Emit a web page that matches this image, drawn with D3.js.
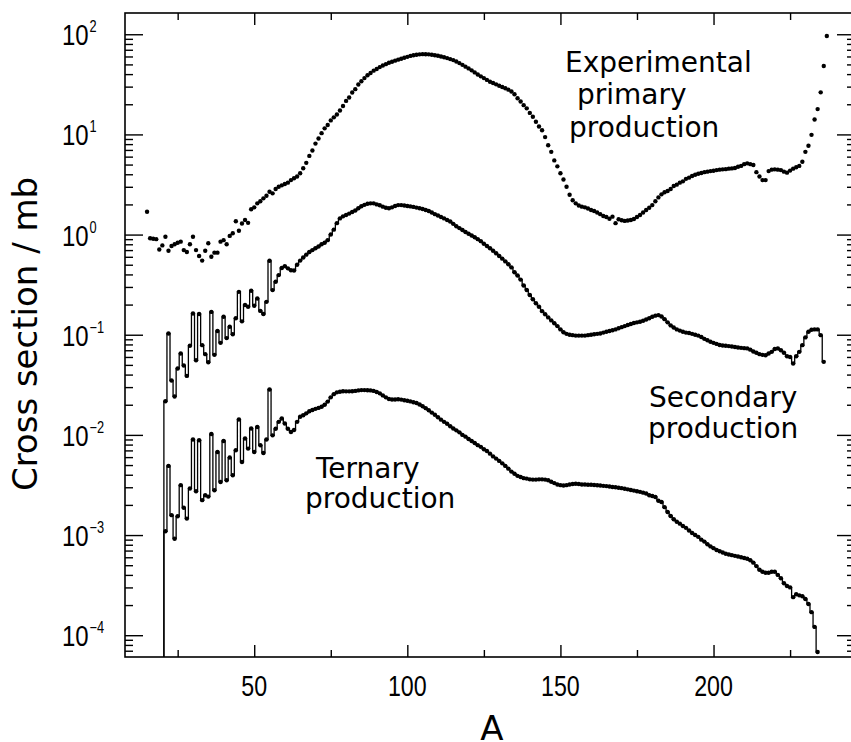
<!DOCTYPE html>
<html>
<head>
<meta charset="utf-8">
<script src="https://cdn.jsdelivr.net/npm/d3@7"></script>
<style>
body { margin: 0; background: #fff; }
svg { display: block; }
.tick line { stroke: #000; stroke-width: 1.4; }
.domain { display: none; }
.num { font-family: "Liberation Sans", Arial, sans-serif; fill: #000; }
.lbl { font-family: "DejaVu Sans", sans-serif; fill: #000; }
</style>
</head>
<body>
<svg width="851" height="742"></svg>
<script>
// A of first entry in each list, one entry per mass number
var primaryStart = 15;
var primaryValues = [
    1.69,0.92,0.91,0.90,0.71,0.78,0.95,0.69,0.77,0.80,
    0.83,0.85,0.70,0.67,0.80,0.95,0.70,0.61,0.55,0.69,
    0.82,0.60,0.66,0.66,0.85,0.88,0.80,0.97,1.03,1.36,
    1.09,1.29,1.40,1.31,1.79,1.87,2.05,2.15,2.30,2.44,
    2.68,2.58,2.85,3.0,3.1,3.2,3.3,3.5,3.65,3.8,
    4.1,4.6,5.2,6.1,6.9,8.1,9.1,10.3,11.5,12.4,
    13.8,14.8,15.8,17.3,19.2,21.6,23.4,26.2,28.3,31.5,
    34.0,36.5,39.0,41.0,43.3,45.0,47.0,48.8,50.3,52.0,
    53.2,54.5,55.8,57.0,58.2,59.5,60.8,61.8,62.5,63.0,
    63.3,63.2,63.0,62.5,61.8,61.0,60.0,58.9,57.8,56.5,
    55.2,53.5,51.5,49.5,47.5,45.6,43.6,41.6,39.6,38.0,
    36.5,35.0,33.6,32.6,31.6,30.6,29.7,28.9,28.0,26.8,
    25.2,23.0,21.3,19.6,18.2,16.4,15.0,13.4,12.0,11.0,
    9.4,7.8,6.7,5.5,4.8,4.1,3.55,3.0,2.5,2.2,
    2.05,1.95,1.9,1.87,1.82,1.76,1.72,1.66,1.6,1.53,
    1.5,1.44,1.51,1.30,1.42,1.39,1.37,1.38,1.40,1.43,
    1.50,1.57,1.66,1.76,1.85,1.97,2.15,2.35,2.52,2.65,
    2.72,2.85,3.05,3.15,3.3,3.4,3.6,3.7,3.85,3.95,
    4.05,4.12,4.2,4.25,4.3,4.34,4.4,4.45,4.48,4.5,
    4.55,4.58,4.62,4.75,4.85,5.05,5.14,5.05,4.95,4.2,
    3.8,3.5,3.5,4.3,4.45,4.48,4.45,4.40,4.25,4.15,
    4.35,4.55,4.7,4.85,5.33,6.7,7.7,9.9,14.1,17.9,
    26.3,48.2,96.0
];

var secondaryStart = 20;
var secondaryValues = [
    1e-6,0.0217,0.103,0.0349,0.0242,0.046,0.065,0.0493,0.0388,0.0775,
    0.163,0.0557,0.161,0.0787,0.064,0.0532,0.169,0.063,0.109,0.083,
    0.151,0.0925,0.12,0.101,0.146,0.268,0.136,0.198,0.19,0.275,
    0.195,0.23,0.173,0.161,0.213,0.547,0.279,0.338,0.394,0.464,
    0.484,0.46,0.44,0.438,0.5,0.55,0.59,0.63,0.67,0.70,
    0.73,0.76,0.80,0.83,0.88,1.0,1.12,1.3,1.45,1.52,
    1.57,1.62,1.68,1.74,1.83,1.92,1.98,2.03,2.05,2.05,
    2.0,1.96,1.9,1.85,1.83,1.87,1.93,1.97,1.97,1.95,
    1.93,1.91,1.89,1.86,1.83,1.80,1.76,1.72,1.66,1.60,
    1.55,1.5,1.45,1.4,1.35,1.28,1.21,1.16,1.11,1.06,
    1.02,0.98,0.94,0.90,0.86,0.81,0.77,0.73,0.69,0.65,
    0.61,0.575,0.54,0.505,0.47,0.42,0.39,0.355,0.31,0.28,
    0.249,0.226,0.206,0.19,0.172,0.16,0.149,0.139,0.13,0.122,
    0.113,0.106,0.102,0.1,0.099,0.098,0.098,0.098,0.098,0.099,
    0.1,0.101,0.102,0.103,0.105,0.107,0.109,0.111,0.113,0.116,
    0.119,0.122,0.125,0.128,0.131,0.133,0.135,0.138,0.142,0.146,
    0.151,0.155,0.157,0.152,0.143,0.133,0.124,0.118,0.113,0.11,
    0.107,0.105,0.104,0.102,0.1,0.098,0.095,0.091,0.088,0.085,
    0.083,0.081,0.079,0.078,0.0775,0.077,0.0762,0.0753,0.0745,0.074,
    0.0735,0.073,0.071,0.068,0.066,0.064,0.063,0.0625,0.065,0.0675,
    0.072,0.073,0.07,0.066,0.061,0.060,0.0516,0.061,0.0675,0.0787,
    0.094,0.107,0.112,0.113,0.113,0.099,0.0536
];

var ternaryStart = 20;
var ternaryValues = [
    1e-6,0.00109,0.0049,0.00158,0.00092,0.00154,0.00315,0.00187,0.00146,0.00292,
    0.009,0.00274,0.00885,0.00223,0.0025,0.00242,0.0102,0.0028,0.00676,0.00339,
    0.0087,0.00352,0.00594,0.00395,0.00703,0.01426,0.00537,0.0092,0.0073,0.0116,
    0.00676,0.012,0.00789,0.0066,0.009,0.0284,0.0099,0.0115,0.0135,0.0146,
    0.013,0.0115,0.0107,0.0112,0.0135,0.0152,0.0157,0.0164,0.0172,0.0177,
    0.0182,0.0186,0.0191,0.0200,0.0215,0.0237,0.0255,0.0266,0.027,0.0273,
    0.0272,0.0272,0.0273,0.0275,0.0278,0.028,0.028,0.0279,0.0278,0.0275,
    0.0268,0.026,0.0248,0.0237,0.0228,0.0226,0.0226,0.0227,0.0225,0.0222,
    0.0219,0.0216,0.0212,0.0208,0.0201,0.0193,0.0185,0.0176,0.0167,0.0159,
    0.015,0.0142,0.0135,0.0129,0.0122,0.0116,0.0111,0.0106,0.0100,0.0096,
    0.0091,0.0087,0.0083,0.0079,0.0076,0.0072,0.0069,0.0065,0.0061,0.0058,
    0.0055,0.0052,0.0049,0.0046,0.0043,0.0041,0.0039,0.0038,0.0037,0.00366,
    0.0036,0.00358,0.00358,0.0036,0.0036,0.00358,0.00352,0.0034,0.0033,0.0032,
    0.00315,0.00312,0.00315,0.0032,0.00323,0.00325,0.00323,0.0032,0.0032,0.00318,
    0.00318,0.00316,0.00314,0.00312,0.0031,0.00308,0.00305,0.00302,0.003,0.00297,
    0.00294,0.0029,0.00286,0.00282,0.00278,0.00274,0.0027,0.00265,0.0026,0.0025,
    0.00245,0.0024,0.0022,0.00214,0.0019,0.0017,0.00155,0.00144,0.00136,0.0013,
    0.00123,0.00118,0.00111,0.00105,0.001,0.00096,0.0009,0.00086,0.00081,0.00077,
    0.00074,0.00071,0.00069,0.00067,0.00065,0.00064,0.00063,0.00062,0.00061,0.0006,
    0.00059,0.00058,0.00056,0.00053,0.00049,0.00045,0.00043,0.00042,0.00042,0.00043,
    0.00043,0.0004,0.00037,0.00033,0.00031,0.0003,0.00024,0.000256,0.00025,0.000245,
    0.00023,0.000205,0.00017,0.000121,0.000068
];

var xMajor = [50, 100, 150, 200];
var xMinor = [25, 75, 125, 175, 225];
var yExponents = [2, 1, 0, -1, -2, -3, -4];

var notes = [
    {text: "Experimental", x: 565, y: 72},
    {text: "primary", x: 577, y: 104},
    {text: "production", x: 569, y: 137},
    {text: "Secondary", x: 649, y: 407},
    {text: "production", x: 648, y: 438},
    {text: "Ternary", x: 316, y: 478},
    {text: "production", x: 305, y: 508}
];

var svg = d3.select("svg"),
    plotLeft = 125, plotRight = 855, plotTop = 13, plotBottom = 657;

var x = d3.scaleLinear().domain([7.8, 246.2]).range([plotLeft, plotRight]);
var y = d3.scaleLog().domain([6.06e-5, 163]).range([plotBottom, plotTop]);

function toPoints(start, values) {
    return values.map(function(v, i) { return {a: start + i, v: v}; });
}

var primary = toPoints(primaryStart, primaryValues);
var secondary = toPoints(secondaryStart, secondaryValues);
var ternary = toPoints(ternaryStart, ternaryValues);

svg.append("defs").append("clipPath").attr("id", "plot")
    .append("rect").attr("x", plotLeft).attr("y", plotTop)
    .attr("width", plotRight - plotLeft).attr("height", plotBottom - plotTop);

// minor ticks for log axis
var yMinor = [];
[3, 2, 1, 0, -1, -2, -3, -4].forEach(function(e) {
    for (var k = 2; k <= 9; k++) yMinor.push(k * Math.pow(10, e - 1));
});
yMinor = yMinor.filter(function(v) { return v > 6.06e-5 && v < 163; });
var yMajor = yExponents.map(function(e) { return Math.pow(10, e); });

function addAxis(axis, tx, ty) {
    svg.append("g").attr("transform", "translate(" + tx + "," + ty + ")")
        .call(axis.tickFormat(""));
}

addAxis(d3.axisRight(y).tickValues(yMajor).tickSize(18), plotLeft, 0);
addAxis(d3.axisRight(y).tickValues(yMinor).tickSize(8), plotLeft, 0);
addAxis(d3.axisLeft(y).tickValues(yMajor).tickSize(18), plotRight, 0);
addAxis(d3.axisLeft(y).tickValues(yMinor).tickSize(8), plotRight, 0);
addAxis(d3.axisTop(x).tickValues(xMajor).tickSize(12), 0, plotBottom);
addAxis(d3.axisTop(x).tickValues(xMinor).tickSize(7), 0, plotBottom);
addAxis(d3.axisBottom(x).tickValues(xMajor).tickSize(12), 0, plotTop);
addAxis(d3.axisBottom(x).tickValues(xMinor).tickSize(7), 0, plotTop);

svg.append("rect")
    .attr("x", plotLeft).attr("y", plotTop)
    .attr("width", plotRight - plotLeft).attr("height", plotBottom - plotTop)
    .attr("fill", "none").attr("stroke", "#000").attr("stroke-width", 1.6);

// tick labels, squeezed horizontally like the narrow plotting font
svg.selectAll(".xlab").data(xMajor).enter().append("text")
    .attr("class", "num")
    .attr("transform", function(d) { return "translate(" + x(d) + ",696) scale(0.8,1)"; })
    .attr("text-anchor", "middle")
    .style("font-size", "29px")
    .text(function(d) { return d; });

var ylab = svg.selectAll(".ylab").data(yExponents).enter().append("text")
    .attr("class", "num")
    .attr("transform", function(d) { return "translate(62," + (y(Math.pow(10, d)) + 11) + ") scale(0.8,1)"; })
    .style("font-size", "30px");
ylab.append("tspan").text("10");
ylab.append("tspan")
    .attr("dy", -13)
    .attr("dx", 1)
    .style("font-size", "16px")
    .text(function(d) { return d < 0 ? "\u2212" + (-d) : d; });

// axis titles
svg.append("text").attr("class", "lbl")
    .attr("x", (plotLeft + plotRight) / 2 + 2).attr("y", 740)
    .attr("text-anchor", "middle")
    .style("font-size", "34px")
    .text("A");

svg.append("text").attr("class", "lbl")
    .attr("transform", "translate(37,334) rotate(-90)")
    .attr("text-anchor", "middle")
    .style("font-size", "34px")
    .text("Cross section / mb");

// data
var plot = svg.append("g").attr("clip-path", "url(#plot)");

var line = d3.line()
    .x(function(d) { return x(d.a); })
    .y(function(d) { return y(d.v); })
    .curve(d3.curveStep);

[secondary, ternary].forEach(function(series) {
    plot.append("path")
        .datum(series)
        .attr("d", line)
        .attr("fill", "none")
        .attr("stroke", "#000")
        .attr("stroke-width", 1.3);
});

[primary, secondary, ternary].forEach(function(series) {
    plot.append("g").selectAll("circle")
        .data(series)
        .enter().append("circle")
        .attr("cx", function(d) { return x(d.a); })
        .attr("cy", function(d) { return y(d.v); })
        .attr("r", 2.2)
        .attr("fill", "#000");
});

svg.selectAll(".note").data(notes).enter().append("text")
    .attr("class", "lbl")
    .attr("x", function(d) { return d.x; })
    .attr("y", function(d) { return d.y; })
    .style("font-size", "28px")
    .text(function(d) { return d.text; });
</script>
</body>
</html>
